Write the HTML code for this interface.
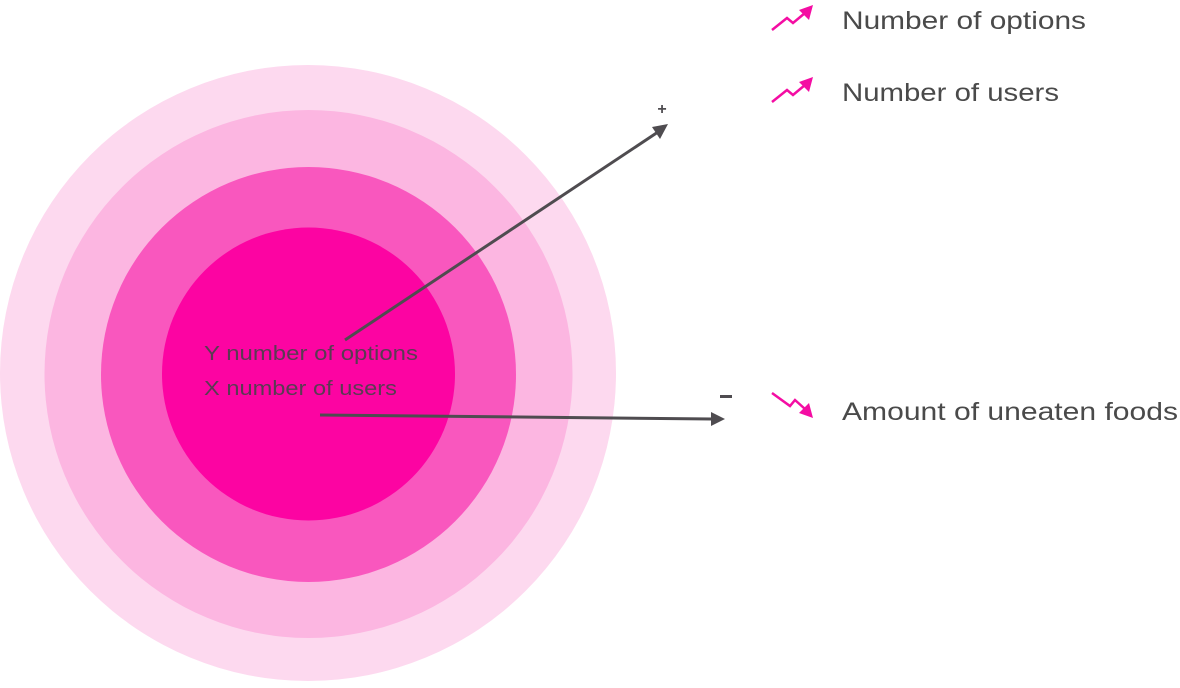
<!DOCTYPE html>
<html><head><style>
body{margin:0;width:1180px;height:683px;background:#fff;overflow:hidden;font-family:"Liberation Sans",sans-serif}
</style></head><body>
<svg width="1180" height="683" xmlns="http://www.w3.org/2000/svg">
<circle cx="308" cy="373" r="308" fill="#fdd9ef"/>
<circle cx="308.5" cy="374" r="264" fill="#fcb6e1"/>
<circle cx="308.5" cy="374.5" r="207.5" fill="#f957be"/>
<circle cx="308.5" cy="374" r="146.5" fill="#fc04a2"/>
<text x="204" y="360" font-size="20" fill="#5a3b52" textLength="214" lengthAdjust="spacingAndGlyphs">Y number of options</text>
<text x="204" y="395" font-size="20" fill="#5a3b52" textLength="193" lengthAdjust="spacingAndGlyphs">X number of users</text>
<line x1="345" y1="340" x2="658" y2="132" stroke="#4f4c50" stroke-width="3"/>
<polygon points="668,124 652,127 660,139" fill="#4f4c50"/>
<line x1="320" y1="415" x2="712" y2="419" stroke="#4f4c50" stroke-width="3"/>
<polygon points="725,419 711,412 711,426" fill="#4f4c50"/>
<text x="662" y="114" font-size="16" font-weight="bold" fill="#4f4c50" text-anchor="middle">+</text>
<rect x="720" y="395" width="12" height="3" fill="#4f4c50"/>
<g fill="none" stroke="#f40da3" stroke-width="2.5">
<polyline points="772,30 787,18 793,23 805,13"/>
<polyline points="772,102 787,90 793,95 805,85"/>
<polyline points="772,393 790,406 795,400 805,409"/>
</g>
<g fill="#f40da3">
<polygon points="813,5 799,10 809,20"/>
<polygon points="813,77 799,82 809,92"/>
<polygon points="813,418 809,403 799,413"/>
</g>
<text x="842" y="29" font-size="25" fill="#4a4a4a" textLength="244" lengthAdjust="spacingAndGlyphs">Number of options</text>
<text x="842" y="101" font-size="25" fill="#4a4a4a" textLength="217" lengthAdjust="spacingAndGlyphs">Number of users</text>
<text x="842" y="420" font-size="25" fill="#4a4a4a" textLength="336" lengthAdjust="spacingAndGlyphs">Amount of uneaten foods</text>
</svg>
</body></html>
